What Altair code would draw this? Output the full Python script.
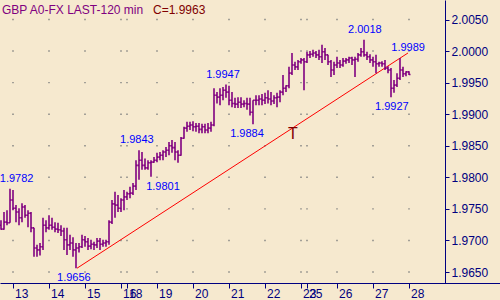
import altair as alt
import pandas as pd

# ---------------- data ----------------
day_labels = ["13", "14", "15", "16", "18", "19", "20", "21", "22", "23", "25", "26", "27", "28"]
day_start_bar = [4, 16, 28, 40, 42, 52, 64, 76, 88, 100, 102, 112, 124, 136]
y_ticks = [1.965, 1.970, 1.975, 1.980, 1.985, 1.990, 1.995, 2.000, 2.005]

open_ = [
    1.9724, 1.9718, 1.9729, 1.9728, 1.9764, 1.9751, 1.9745, 1.9736, 1.9753, 1.9740,
    1.9743, 1.9720, 1.9688, 1.9685, 1.9690, 1.9724, 1.9720, 1.9724, 1.9721, 1.9718,
    1.9717, 1.9715, 1.9701, 1.9693, 1.9696, 1.9685, 1.9688, 1.9690, 1.9701, 1.9698,
    1.9691, 1.9694, 1.9693, 1.9699, 1.9694, 1.9696, 1.9698, 1.9729, 1.9758, 1.9756,
    1.9751, 1.9764, 1.9769, 1.9774, 1.9775, 1.9786, 1.9819, 1.9827, 1.9819, 1.9815,
    1.9823, 1.9824, 1.9827, 1.9832, 1.9835, 1.9840, 1.9843, 1.9850, 1.9847, 1.9840,
    1.9835, 1.9862, 1.9878, 1.9881, 1.9883, 1.9880, 1.9881, 1.9876, 1.9880, 1.9875,
    1.9878, 1.9883, 1.9930, 1.9927, 1.9930, 1.9938, 1.9935, 1.9922, 1.9917, 1.9916,
    1.9919, 1.9916, 1.9917, 1.9916, 1.9903, 1.9922, 1.9922, 1.9924, 1.9922, 1.9926,
    1.9924, 1.9921, 1.9926, 1.9927, 1.9935, 1.9941, 1.9945, 1.9965, 1.9978, 1.9975,
    1.9983, 1.9986, 1.9983, 1.9994, 1.9995, 1.9997, 1.9994, 1.9991, 1.9999, 1.9994,
    1.9983, 1.9970, 1.9978, 1.9981, 1.9978, 1.9984, 1.9986, 1.9989, 1.9986, 1.9987,
    1.9994, 1.9999, 1.9994, 1.9991, 1.9986, 1.9983, 1.9980, 1.9981, 1.9980, 1.9973,
    1.9970, 1.9941, 1.9946, 1.9957, 1.9970, 1.9964, 1.9967,
]
high = [
    1.9732, 1.9745, 1.9748, 1.9782, 1.9780, 1.9756, 1.9751, 1.9759, 1.9756, 1.9748,
    1.9745, 1.9720, 1.9693, 1.9696, 1.9736, 1.9732, 1.9740, 1.9736, 1.9729, 1.9728,
    1.9724, 1.9720, 1.9720, 1.9709, 1.9705, 1.9696, 1.9696, 1.9709, 1.9707, 1.9704,
    1.9701, 1.9698, 1.9704, 1.9704, 1.9701, 1.9701, 1.9732, 1.9764, 1.9777, 1.9772,
    1.9767, 1.9780, 1.9777, 1.9785, 1.9791, 1.9827, 1.9843, 1.9840, 1.9830, 1.9827,
    1.9827, 1.9832, 1.9839, 1.9840, 1.9843, 1.9848, 1.9856, 1.9859, 1.9856, 1.9843,
    1.9864, 1.9880, 1.9888, 1.9888, 1.9889, 1.9886, 1.9886, 1.9885, 1.9885, 1.9886,
    1.9888, 1.9941, 1.9935, 1.9941, 1.9943, 1.9947, 1.9945, 1.9935, 1.9926, 1.9927,
    1.9927, 1.9922, 1.9926, 1.9926, 1.9922, 1.9930, 1.9930, 1.9932, 1.9934, 1.9938,
    1.9935, 1.9930, 1.9934, 1.9938, 1.9962, 1.9946, 1.9975, 1.9997, 1.9983, 1.9986,
    1.9989, 1.9989, 1.9999, 2.0000, 2.0002, 2.0000, 2.0002, 2.0010, 2.0005, 1.9994,
    1.9986, 1.9983, 1.9991, 1.9986, 1.9989, 1.9989, 1.9991, 1.9991, 1.9991, 1.9997,
    2.0005, 2.0018, 1.9999, 1.9995, 1.9991, 1.9994, 1.9983, 1.9984, 1.9986, 1.9976,
    1.9973, 1.9954, 1.9965, 1.9989, 1.9975, 1.9968, 1.9968,
]
low = [
    1.9717, 1.9717, 1.9724, 1.9728, 1.9748, 1.9729, 1.9724, 1.9729, 1.9736, 1.9721,
    1.9713, 1.9674, 1.9674, 1.9676, 1.9685, 1.9713, 1.9717, 1.9717, 1.9713, 1.9712,
    1.9707, 1.9685, 1.9677, 1.9685, 1.9674, 1.9656, 1.9681, 1.9688, 1.9690, 1.9685,
    1.9686, 1.9685, 1.9688, 1.9685, 1.9690, 1.9690, 1.9693, 1.9726, 1.9736, 1.9745,
    1.9745, 1.9748, 1.9764, 1.9767, 1.9772, 1.9780, 1.9796, 1.9812, 1.9812, 1.9812,
    1.9801, 1.9823, 1.9824, 1.9827, 1.9827, 1.9832, 1.9835, 1.9839, 1.9827, 1.9823,
    1.9834, 1.9861, 1.9872, 1.9875, 1.9873, 1.9872, 1.9870, 1.9870, 1.9870, 1.9870,
    1.9872, 1.9881, 1.9917, 1.9914, 1.9922, 1.9926, 1.9914, 1.9911, 1.9910, 1.9910,
    1.9910, 1.9911, 1.9907, 1.9898, 1.9884, 1.9914, 1.9914, 1.9914, 1.9916, 1.9917,
    1.9914, 1.9916, 1.9911, 1.9919, 1.9930, 1.9935, 1.9941, 1.9962, 1.9970, 1.9970,
    1.9980, 1.9938, 1.9981, 1.9989, 1.9991, 1.9989, 1.9986, 1.9981, 1.9986, 1.9978,
    1.9959, 1.9962, 1.9973, 1.9973, 1.9975, 1.9980, 1.9981, 1.9978, 1.9959, 1.9983,
    1.9991, 1.9991, 1.9986, 1.9981, 1.9975, 1.9965, 1.9975, 1.9975, 1.9970, 1.9965,
    1.9927, 1.9934, 1.9943, 1.9954, 1.9959, 1.9960, 1.9962,
]
close = [
    1.9718, 1.9729, 1.9728, 1.9764, 1.9751, 1.9745, 1.9736, 1.9753, 1.9740, 1.9743,
    1.9720, 1.9688, 1.9685, 1.9690, 1.9724, 1.9720, 1.9724, 1.9721, 1.9718, 1.9717,
    1.9715, 1.9701, 1.9693, 1.9696, 1.9685, 1.9688, 1.9690, 1.9701, 1.9698, 1.9691,
    1.9694, 1.9693, 1.9699, 1.9694, 1.9696, 1.9698, 1.9729, 1.9758, 1.9756, 1.9751,
    1.9764, 1.9769, 1.9774, 1.9775, 1.9786, 1.9819, 1.9827, 1.9819, 1.9815, 1.9823,
    1.9824, 1.9827, 1.9832, 1.9835, 1.9840, 1.9843, 1.9850, 1.9847, 1.9840, 1.9835,
    1.9862, 1.9878, 1.9881, 1.9883, 1.9880, 1.9881, 1.9876, 1.9880, 1.9875, 1.9878,
    1.9883, 1.9930, 1.9927, 1.9930, 1.9938, 1.9935, 1.9922, 1.9917, 1.9916, 1.9919,
    1.9916, 1.9917, 1.9916, 1.9903, 1.9922, 1.9922, 1.9924, 1.9922, 1.9926, 1.9924,
    1.9921, 1.9926, 1.9927, 1.9935, 1.9941, 1.9945, 1.9965, 1.9978, 1.9975, 1.9983,
    1.9986, 1.9983, 1.9994, 1.9995, 1.9997, 1.9994, 1.9991, 1.9999, 1.9994, 1.9983,
    1.9970, 1.9978, 1.9981, 1.9978, 1.9984, 1.9986, 1.9989, 1.9986, 1.9987, 1.9994,
    1.9999, 1.9994, 1.9991, 1.9986, 1.9983, 1.9980, 1.9981, 1.9980, 1.9973, 1.9970,
    1.9941, 1.9946, 1.9957, 1.9970, 1.9964, 1.9967, 1.9963,
]

# swing-point annotations
above_text = ["1.9782", "1.9843", "1.9947", "2.0018", "1.9989"]
above_bar = [5.2, 45.3, 74.0, 121.3, 135.7]
above_price = [1.9782, 1.9843, 1.9947, 2.0018, 1.9989]
below_text = ["1.9656", "1.9801", "1.9884", "1.9927"]
below_bar = [24.3, 54.0, 82.0, 130.3]
below_price = [1.9656, 1.9801, 1.9884, 1.9927]

# trend line and its marker
trend_bar = [25.33, 135.67]
trend_price = [1.9656, 1.9997]
marker_bar = [97.3]
marker_price = [1.9869]

instrument = "GBP A0-FX LAST-120 min"

# ---------------- styling ----------------
BG = "#F6E9CF"
PURPLE = "#800080"
NAVY = "#000080"
FONT = "Liberation Sans"

bars = pd.DataFrame({"i": list(range(len(close))), "open": open_, "high": high,
                     "low": low, "close": close})

xs = alt.Scale(domain=[-1 / 3, 148], nice=False, zero=False)
ys = alt.Scale(domain=[1.96326, 2.00809], nice=False, zero=False)

labels_js = "[" + ",".join(f"'{d}'" for d in day_labels) + "]"
ticks_js = "[" + ",".join(str(v) for v in day_start_bar) + "]"

x_axis = alt.Axis(
    values=day_start_bar, labelExpr=f"{labels_js}[indexof({ticks_js}, datum.value)]",
    orient="bottom", grid=False, domainColor=NAVY, tickColor=NAVY, labelColor=NAVY,
    tickSize=5, labelAlign="left", labelBaseline="top", labelOffset=1.5, labelPadding=0,
    labelOverlap=False, labelFlush=False, labelFont=FONT, labelFontSize=12, title=None,
    domainWidth=1, tickWidth=1,
)
y_axis = alt.Axis(
    values=y_ticks, format=".4f", orient="right", grid=False, domainColor=NAVY,
    tickColor=NAVY, labelColor=NAVY, tickSize=4, labelPadding=2, labelFlush=False,
    labelOverlap=False, labelFont=FONT, labelFontSize=12, title=None,
    labelBaseline="middle", domainWidth=1, tickWidth=1,
)


def X(field):
    return alt.X(field, scale=xs, axis=x_axis)


def Y(field):
    return alt.Y(field, scale=ys, axis=y_axis)


grid_df = pd.DataFrame([(x, y) for x in day_start_bar for y in y_ticks], columns=["x", "y"])
grid = alt.Chart(grid_df).mark_square(size=2, color="#808080", opacity=1).encode(
    x=X("x:Q"), y=Y("y:Q")
)

trend = alt.Chart(pd.DataFrame({"x": trend_bar, "y": trend_price})).mark_line(
    color="#FF0000", strokeWidth=1
).encode(x=X("x:Q"), y=Y("y:Q"))

hl = alt.Chart(bars).mark_rule(color=PURPLE, strokeWidth=1.6).encode(
    x=X("i:Q"), y=Y("low:Q"), y2="high:Q"
)
op = alt.Chart(bars).transform_calculate(xl="datum.i - 0.5").mark_rule(
    color=PURPLE, strokeWidth=1.6
).encode(x=X("xl:Q"), x2="i:Q", y=Y("open:Q"))
cl = alt.Chart(bars).transform_calculate(xr="datum.i + 0.5").mark_rule(
    color=PURPLE, strokeWidth=1.6
).encode(x=X("i:Q"), x2="xr:Q", y=Y("close:Q"))

lab_above = alt.Chart(pd.DataFrame({"x": above_bar, "y": above_price, "t": above_text})).mark_text(
    color="#0000FF", font=FONT, fontSize=11, baseline="middle", align="center", dy=-10
).encode(x=X("x:Q"), y=Y("y:Q"), text="t:N")
lab_below = alt.Chart(pd.DataFrame({"x": below_bar, "y": below_price, "t": below_text})).mark_text(
    color="#0000FF", font=FONT, fontSize=11, baseline="middle", align="center", dy=10
).encode(x=X("x:Q"), y=Y("y:Q"), text="t:N")

marker = alt.Chart(pd.DataFrame({"x": marker_bar, "y": marker_price, "t": ["T"]})).mark_text(
    color="#800000", font=FONT, fontSize=16, baseline="middle", align="center"
).encode(x=X("x:Q"), y=Y("y:Q"), text="t:N")

title1 = alt.Chart(pd.DataFrame({"t": [instrument]})).mark_text(
    color=PURPLE, font=FONT, fontSize=12, align="left", baseline="alphabetic"
).encode(x=alt.value(2), y=alt.value(14), text="t:N")
title2 = alt.Chart(pd.DataFrame({"t": [f"C={close[-1]:.4f}"]})).mark_text(
    color="#800000", font=FONT, fontSize=12, align="left", baseline="alphabetic"
).encode(x=alt.value(153), y=alt.value(14), text="t:N")

bottom_ext = alt.Chart(pd.DataFrame({"a": [0]})).mark_rule(color=NAVY, strokeWidth=1).encode(
    x=alt.value(445), x2=alt.value(500), y=alt.value(283.5)
)

chart = alt.layer(
    grid, trend, hl, op, cl, lab_above, lab_below, marker, title1, title2, bottom_ext
).properties(
    width=445, height=283,
    padding={"left": 0, "top": 0, "right": 55, "bottom": 17},
    autosize=alt.AutoSizeParams(type="none"),
    background=BG,
).configure_view(stroke=None).configure_axis(labelOverlap=False, labelFlush=False)

chart.save("out.html", embed_options={"renderer": "svg", "actions": False})
